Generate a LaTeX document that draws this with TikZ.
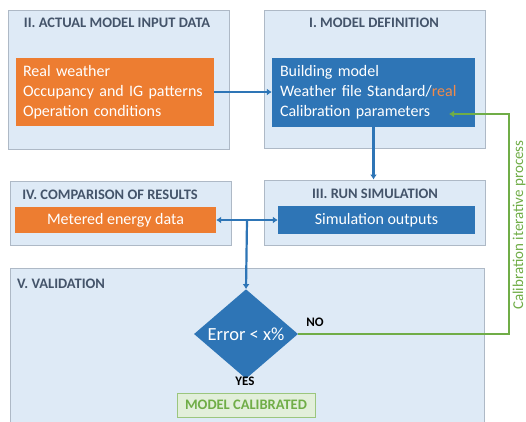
\documentclass[tikz,border=0pt]{standalone}
\usepackage{fontspec}
\setmainfont{Carlito}
\usetikzlibrary{arrows.meta,shapes.geometric}
\definecolor{panelfill}{HTML}{DEEAF6}
\definecolor{panelline}{HTML}{AEB9C6}
\definecolor{titlegray}{HTML}{44546A}
\definecolor{orangefill}{HTML}{ED7D31}
\definecolor{bluefill}{HTML}{2E75B6}
\definecolor{greenline}{HTML}{70AD47}
\definecolor{greenfill}{HTML}{E2EFDA}
\definecolor{realtext}{HTML}{F08A4B}
\tikzset{
  x=1pt, y=1pt,
  panel/.style={draw=panelline, line width=1pt, fill=panelfill, inner sep=0pt},
  paneltitle/.style={font=\fontsize{14.5}{16}\selectfont\bfseries, text=titlegray, inner sep=0pt},
  orangebox/.style={fill=orangefill, text=white, inner sep=0pt, font=\fontsize{16}{20}\selectfont},
  bluebox/.style={fill=bluefill, text=white, inner sep=0pt, font=\fontsize{16}{20}\selectfont},
  flow/.style={draw=bluefill, line width=2.2pt, -{Latex[length=5pt,width=7pt]}},
  loop/.style={draw=greenline, line width=2.4pt, -{Latex[length=5pt,width=7pt]}},
  answer/.style={font=\fontsize{13}{15}\selectfont\bfseries, text=black, inner sep=0pt}
}
\begin{document}
\begin{tikzpicture}
\useasboundingbox (0,0) rectangle (526,-421);
\fill[white] (0,0) rectangle (526,-421);
\clip (0,0) rectangle (526,-421);

% II. input data
\node[panel, minimum width=221, minimum height=139] (pII) at (118.5,-79.5) {};
\node[paneltitle] (tII) at (117,-23) {II. ACTUAL MODEL INPUT DATA};
\node[orangebox, minimum width=198, minimum height=68, inner xsep=7pt, text width=184, align=left] (inII) at (115,-92)
  {Real weather\\Occupancy and IG patterns\\Operation conditions};

% I. model definition
\node[panel, minimum width=221, minimum height=138] (pI) at (374.5,-79) {};
\node[paneltitle] (tI) at (374,-23) {I. MODEL DEFINITION};
\node[bluebox, minimum width=203, minimum height=69, inner xsep=8pt, text width=187, align=left] (inI) at (373.5,-92.5)
  {Building model\\Weather file Standard/\textcolor{realtext}{real}\\Calibration parameters};
\coordinate (calib) at (449,-114);

% III. run simulation
\node[panel, minimum width=221, minimum height=65] (pIII) at (374.5,-212.5) {};
\node[paneltitle] (tIII) at (375,-194) {III. RUN SIMULATION};
\node[bluebox, minimum width=197, minimum height=28] (sim) at (376.5,-220) {Simulation outputs};

% IV. comparison
\node[panel, minimum width=221, minimum height=64] (pIV) at (120.5,-213) {};
\node[paneltitle] (tIV) at (110,-195) {IV. COMPARISON OF RESULTS};
\node[orangebox, minimum width=201, minimum height=26] (met) at (115.5,-220) {Metered energy data};

% V. validation
\node[panel, minimum width=474, minimum height=170] (pV) at (247,-353) {};
\node[paneltitle, anchor=west] (tV) at (17,-284) {V. VALIDATION};
\node[diamond, fill=bluefill, text=white, minimum width=104, minimum height=77, inner sep=0pt,
      font=\fontsize{18.5}{20}\selectfont] (err) at (246,-334) {Error < x\%};
\node[answer] (no) at (315,-322) {NO};
\node[answer] (yes) at (245,-381) {YES};
\node[draw=greenline!70, line width=1pt, fill=greenfill, minimum width=138, minimum height=24, inner sep=0pt,
      font=\fontsize{14.5}{16}\selectfont\bfseries, text=greenline] (ok) at (246,-405) {MODEL CALIBRATED};

% connectors
\draw[flow] (inII.east) -- (inII.east -| inI.west);
\draw[flow] (inI.south) -- (inI.south |- pIII.north);
\coordinate (split) at (247,-220);
\draw[flow, {Latex[length=5pt,width=7pt]}-{Latex[length=5pt,width=7pt]}] (met.east) -- (sim.west);
\draw[flow] (split) -- (err.north);
\coordinate (turn) at (509,-334);
\draw[loop] (err.east) -- (turn) |- (calib);
\node[rotate=90, font=\fontsize{15}{17}\selectfont, text=greenline, inner sep=0pt] (looplabel) at (519,-225)
  {Calibration iterative process};
\end{tikzpicture}
\end{document}
